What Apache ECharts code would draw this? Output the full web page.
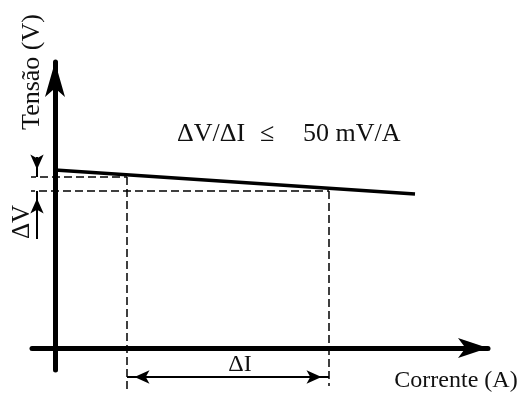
<!DOCTYPE html>
<html>
<head>
<meta charset="utf-8">
<script src="https://cdn.jsdelivr.net/npm/echarts@6/dist/echarts.min.js"></script>
<style>
html,body{margin:0;padding:0;background:#fff;}
#chart{width:523px;height:396px;}
</style>
</head>
<body>
<div id="chart"></div>
<script>
// ---- data (arbitrary units) ----
const lineCurrent = [0, 360];          // sloped characteristic: current values
const lineVoltage = [178, 154];        // sloped characteristic: voltage values
const refCurrents = [72, 274];         // I1, I2 (vertical dashed lines)
const refVoltages = [171, 157];        // V1, V2 (horizontal dashed lines)
const dashStartCurrent = [-27, -28];   // left ends of the horizontal dashed lines
const dashEndVoltage = [-44, -38];     // bottom ends of the vertical dashed lines
const deltaIVoltage = -29;             // level of the ΔI dimension arrow
const deltaVCurrent = -18;             // position of the ΔV dimension arrows
const deltaVStem = [191, 109];         // outer ends of the ΔV arrow stems
const axisXRange = [-23, 433];
const axisYRange = [-22, 286];
const labels = {
  yName: 'Tensão (V)', xName: 'Corrente (A)', dV: 'ΔV', dI: 'ΔI',
  ratio: 'ΔV/ΔI', le: '≤', limit: '50 mV/A'
};

const FONT = '"Liberation Serif", "Times New Roman", serif';
const dash = { color: '#000', width: 1.5, type: [8, 4] };
const arrowSize = [10, 15];

function seg(data, lineStyle, extra) {
  return Object.assign({
    type: 'line', data: data, symbol: 'none', clip: false, silent: true,
    lineStyle: lineStyle, animation: false
  }, extra || {});
}

const series = [
  // main sloped line
  seg(lineCurrent.map((c, i) => [c, lineVoltage[i]]), { color: '#000', width: 3.5 }),
  // horizontal dashed lines
  seg([[dashStartCurrent[0], refVoltages[0]], [refCurrents[0], refVoltages[0]]], dash),
  seg([[dashStartCurrent[1], refVoltages[1]], [refCurrents[1], refVoltages[1]]], dash),
  // vertical dashed lines
  seg([[refCurrents[0], refVoltages[0]], [refCurrents[0], dashEndVoltage[0]]], dash),
  seg([[refCurrents[1], refVoltages[1]], [refCurrents[1], dashEndVoltage[1]]], dash),
  // ΔI double arrow
  seg([
    { value: [refCurrents[0], deltaIVoltage], symbol: 'arrow', symbolSize: arrowSize, symbolRotate: 90, symbolOffset: [7.5, 0] },
    { value: [refCurrents[1], deltaIVoltage], symbol: 'arrow', symbolSize: arrowSize, symbolRotate: -90, symbolOffset: [-7.5, 0] }
  ], { color: '#000', width: 2 }, { itemStyle: { color: '#000' }, showAllSymbol: true }),
  // ΔV upper arrow (pointing down)
  seg([
    { value: [deltaVCurrent, deltaVStem[0]], symbol: 'none' },
    { value: [deltaVCurrent, refVoltages[0]], symbol: 'arrow', symbolSize: arrowSize, symbolRotate: 180, symbolOffset: [0, -7.5] }
  ], { color: '#000', width: 2 }, { itemStyle: { color: '#000' }, showAllSymbol: true }),
  // ΔV lower arrow (pointing up)
  seg([
    { value: [deltaVCurrent, refVoltages[1]], symbol: 'arrow', symbolSize: arrowSize, symbolRotate: 0, symbolOffset: [0, 7.5] },
    { value: [deltaVCurrent, deltaVStem[1]], symbol: 'none' }
  ], { color: '#000', width: 2 }, { itemStyle: { color: '#000' }, showAllSymbol: true })
];

function txt(text, x, y, size, opts) {
  return Object.assign({
    type: 'text', x: x, y: y, silent: true,
    style: Object.assign({ text: text, font: size + 'px ' + FONT, fill: '#111', align: 'center', verticalAlign: 'middle' }, (opts && opts.style) || {})
  }, (opts && opts.el) || {});
}

const chart = echarts.init(document.getElementById('chart'), null, { renderer: 'canvas' });
chart.setOption({
  animation: false,
  backgroundColor: '#fff',
  grid: { left: 32, top: 62, width: 456, height: 308, containLabel: false },
  xAxis: {
    type: 'value', min: axisXRange[0], max: axisXRange[1],
    axisLine: { show: true, onZero: true, symbol: ['none', 'arrow'], symbolSize: [15, 30], lineStyle: { color: '#000', width: 5 } },
    axisTick: { show: false }, axisLabel: { show: false }, splitLine: { show: false }
  },
  yAxis: {
    type: 'value', min: axisYRange[0], max: axisYRange[1],
    axisLine: { show: true, onZero: true, symbol: ['none', 'arrow'], symbolSize: [15, 35], lineStyle: { color: '#000', width: 5 } },
    axisTick: { show: false }, axisLabel: { show: false }, splitLine: { show: false }
  },
  series: series,
  graphic: [
    txt(labels.yName, 32, 72, 26, { el: { rotation: Math.PI / 2 } }),
    txt(labels.dV, 22, 222, 25, { el: { rotation: Math.PI / 2 } }),
    txt(labels.ratio, 177, 134, 26, { style: { align: 'left' } }),
    txt(labels.le, 260, 134, 26, { style: { align: 'left' } }),
    txt(labels.limit, 303, 134, 26, { style: { align: 'left' } }),
    txt(labels.dI, 240, 365, 24),
    txt(labels.xName, 456, 381, 24)
  ]
});
</script>
</body>
</html>
